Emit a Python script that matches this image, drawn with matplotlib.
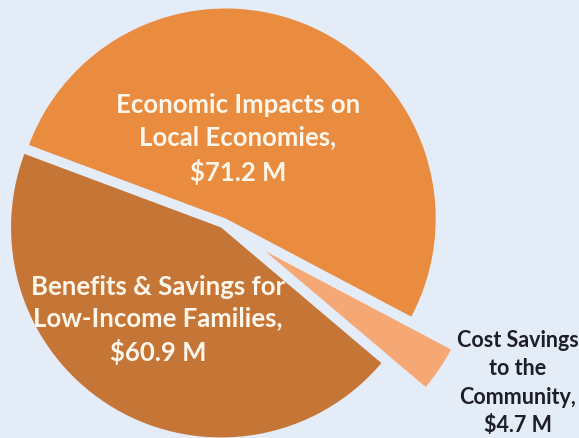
import matplotlib
matplotlib.use('Agg')
import matplotlib.pyplot as plt

# data
categories = ['Economic Impacts on\nLocal Economies,', 'Cost Savings\nto the\nCommunity,', 'Benefits & Savings for\nLow-Income Families,']
values = [71.2, 4.7, 60.9]
colors = ['#E98C40', '#F5A774', '#C57636']
explode = [0.024, 0.24, 0.024]

BG = '#E4ECF7'
W, H = 579, 439

fig = plt.figure(figsize=(W / 100, H / 100), dpi=100)
fig.patch.set_facecolor(BG)
ax = fig.add_axes([0, 0, 1, 1])
ax.set_facecolor(BG)

# pie in pixel-like data coords (y up); explode is in data units here
R = 210
cx, cy = 223.6, H - 224.1
ax.pie(values, colors=colors, explode=[e * R for e in explode], startangle=159.5,
       counterclock=False, radius=R, center=(cx, cy), wedgeprops=dict(linewidth=0))

ax.set_xlim(0, W)
ax.set_ylim(0, H)
ax.set_aspect('equal')
ax.axis('off')

font = 'Lato'
# label positions (pixel coords from top)
lab_pos = [(238, 139), (518, 383), (158, 320)]
lab_col = ['#FFF6EC', '#1E1E28', '#FFF6EC']
lab_size = [18.5, 15.5, 18.5]
lab_ls = [1.42, 1.45, 1.4]
for name, v, (x, y), c, s, ls in zip(categories, values, lab_pos, lab_col, lab_size, lab_ls):
    txt = name + '\n$' + f'{v:.1f}' + ' M'
    ax.text(x, H - y, txt, ha='center', va='center', color=c, fontsize=s,
            fontweight='bold', family=font, linespacing=ls)

plt.savefig('out.png', dpi=100, facecolor=BG)
plt.close()
